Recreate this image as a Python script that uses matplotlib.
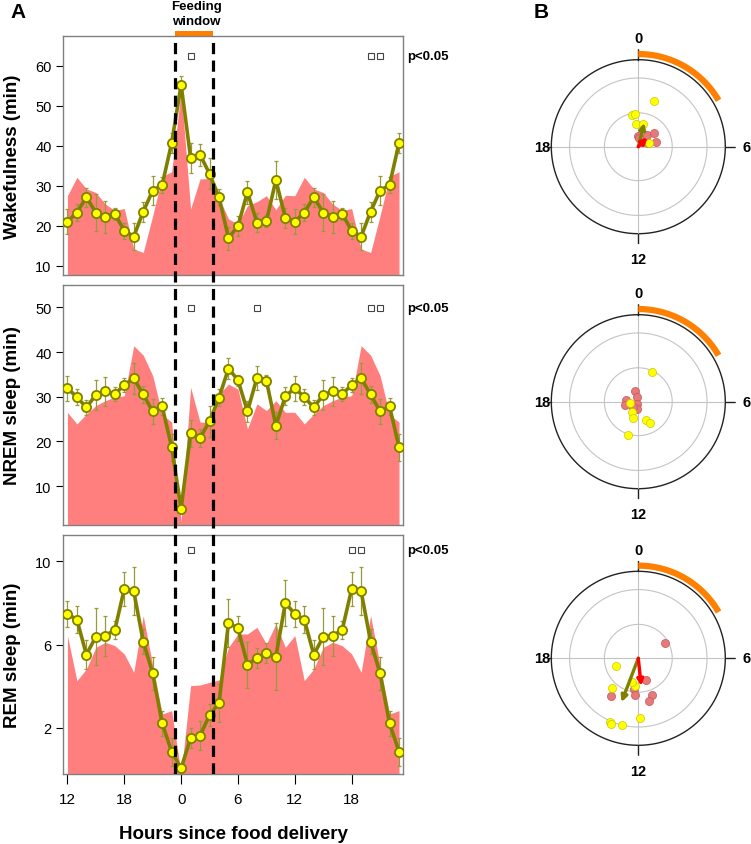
import numpy as np
import matplotlib.pyplot as plt

plt.rcParams['font.family'] = ['Liberation Sans', 'DejaVu Sans']

W, H = 751, 845

# ---- panel A data: hourly values, 0..23 h after food delivery (double plotted) ----
wake_mean = [55.2, 37.0, 37.7, 33.0, 27.1, 16.9, 19.9, 28.4, 20.8, 21.1, 31.4, 22.0,
             21.0, 23.3, 27.1, 23.3, 22.3, 22.9, 18.8, 17.3, 23.5, 28.8, 30.2, 40.7]
wake_sem = [2.2, 3.7, 2.7, 3.9, 2.0, 2.9, 2.5, 2.9, 2.3, 1.5, 4.8, 2.5,
            3.1, 2.1, 2.3, 4.6, 4.0, 1.5, 2.0, 3.3, 2.5, 3.6, 1.9, 2.5]
wake_ctrl = [53.8, 24.2, 31.7, 31.8, 27.0, 21.7, 20.4, 25.0, 26.0, 27.5, 24.0, 27.6,
             27.5, 32.1, 29.2, 28.3, 25.4, 23.8, 24.3, 14.2, 13.3, 22.5, 32.3, 33.5]

nrem_mean = [4.9, 21.8, 20.8, 24.5, 29.8, 36.3, 33.7, 26.7, 34.2, 33.6, 23.5, 30.1,
             31.9, 29.9, 27.6, 30.4, 31.2, 30.6, 32.6, 34.1, 30.5, 26.7, 27.8, 18.7]
nrem_sem = [1.0, 3.0, 2.0, 3.5, 1.9, 2.4, 1.2, 2.4, 2.6, 1.2, 3.0, 2.0,
            2.8, 1.8, 1.6, 3.4, 3.2, 1.5, 1.5, 3.5, 1.9, 2.8, 2.0, 3.0]
nrem_ctrl = [2.0, 32.1, 24.3, 24.3, 30.6, 32.8, 31.7, 22.8, 28.4, 26.9, 29.1, 26.5,
             26.5, 23.9, 26.1, 28.0, 29.1, 29.9, 30.2, 41.4, 39.3, 34.7, 26.0, 24.3]

rem_mean = [0.06, 1.52, 1.63, 2.62, 3.2, 7.04, 6.78, 5.04, 5.36, 5.6, 5.42, 8.0,
            7.47, 7.2, 5.52, 6.38, 6.43, 6.7, 8.67, 8.56, 6.14, 4.62, 2.22, 0.86]
rem_sem = [0.2, 0.5, 0.7, 0.55, 0.9, 1.15, 0.6, 1.1, 0.5, 0.5, 1.6, 1.1,
           0.64, 0.64, 0.7, 1.36, 0.96, 0.45, 0.8, 1.15, 0.6, 0.8, 0.6, 0.68]
rem_ctrl = [-0.2, 4.03, 4.06, 4.19, 4.3, 5.87, 6.51, 6.51, 6.83, 6.03, 6.99, 5.87,
            6.43, 4.27, 4.83, 5.87, 6.11, 5.95, 5.55, 4.67, 7.39, 5.0, 2.67, 2.83]

# hours with significant difference (open squares)
wake_sig = [1, 20, 21]
nrem_sig = [1, 8, 20, 21]
rem_sig = [1, 18, 19]

hours = np.arange(-12, 24)
tick_hours = [-12, -6, 0, 6, 12, 18]
tick_labels = ['12', '18', '0', '6', '12', '18']
window = (-0.65, 3.4)

# ---- panel B data: (hour of peak, vector length) ----
wake_yel = [(1.23, 0.557), (23.2, 0.372), (23.6, 0.377), (23.6, 0.262), (0.72, 0.265), (4.9, 0.132)]
wake_pink = [(23.77, 0.127), (2.37, 0.165), (3.27, 0.234), (4.95, 0.211), (4.77, 0.121), (2.25, 0.069), (0.3, 0.096)]
wake_arrows = [(0.94, 0.284), (3.0, 0.15)]

nrem_yel = [(1.6, 0.377), (17.3, 0.10), (14.1, 0.145), (13.1, 0.20), (10.4, 0.23), (10.1, 0.28), (13.2, 0.40)]
nrem_pink = [(22.8, 0.133), (22.6, 0.053), (18.6, 0.147), (17.1, 0.157), (13.5, 0.03), (12.5, 0.085), (15.1, 0.084)]
nrem_arrows = []

rem_yel = [(16.7, 0.27), (14.8, 0.46), (12.5, 0.32), (12.96, 0.28), (13.6, 0.80), (13.5, 0.82), (12.9, 0.785), (11.9, 0.69)]
rem_pink = [(4.06, 0.35), (10.7, 0.26), (12.5, 0.356), (12.35, 0.42), (10.6, 0.45), (11.1, 0.51), (14.4, 0.53)]
rem_arrows = [(13.4, 0.54), (11.6, 0.32)]

OLIVE = '#808000'
RED_AREA = '#FF7F7F'
ORANGE = '#FF7F00'


def px_rect(left, top, w, h):
    return [left / W, 1 - (top + h) / H, w / W, h / H]


def double(v):
    v = np.asarray(v)
    return np.concatenate([v[12:], v])


def draw_panel(ax, mean, sem, ctrl, ylim, yticks, sig, sig_y):
    ax.fill_between(hours, ylim[0] - 5, double(ctrl), color=RED_AREA, lw=0, zorder=1)
    ax.errorbar(hours, double(mean), yerr=double(sem), fmt='none', ecolor='#9a9a3a',
                elinewidth=0.9, capsize=1.6, capthick=0.9, zorder=2)
    ax.plot(hours, double(mean), '-o', color=OLIVE, lw=2.6, ms=6.6, mfc='#FFFF00',
            mec=OLIVE, mew=1.3, zorder=3)
    ax.plot(sig, [sig_y] * len(sig), 's', ls='none', ms=5, mfc='white', mec='#444444', mew=0.8)
    ax.text(1.012, sig_y, 'p<0.05', transform=ax.get_yaxis_transform(), ha='left',
            va='center', fontsize=9.5, fontweight='bold')
    ax.set_xlim(-12.5, 23.45)
    ax.set_ylim(*ylim)
    ax.set_yticks(yticks)
    for s in ax.spines.values():
        s.set_color('#808080')
        s.set_linewidth(1)
    ax.tick_params(axis='y', length=5, width=0.8, labelsize=10.5, pad=3)
    ax.tick_params(axis='x', length=0, labelbottom=False)


def draw_polar(ax, yel, pink, arrows):
    ax.set_theta_zero_location('N')
    ax.set_theta_direction(-1)
    ax.set_ylim(0, 1.12)
    ax.axis('off')
    th = np.linspace(0, 2 * np.pi, 400)
    for r in (0.39, 0.79):
        ax.plot(th, np.full_like(th, r), color='#c4c4c4', lw=0.8)
    ax.plot(th, np.ones_like(th), color='#222222', lw=1)
    for a in (0, 0.5 * np.pi, np.pi, 1.5 * np.pi):
        ax.plot([a, a], [0, 1], color='#c4c4c4', lw=0.8)
        ax.plot([a, a], [1, 1.12 if a != 1.5 * np.pi else 1.03], color='#222222', lw=1)
    arc = np.linspace(0, 4 / 24 * 2 * np.pi, 60)
    ax.plot(arc, np.full_like(arc, 1.065), color=ORANGE, lw=4.5, solid_capstyle='butt')
    for lab, a, r in (('0', 0, 1.25), ('6', 0.5 * np.pi, 1.25), ('12', np.pi, 1.29), ('18', 1.5 * np.pi, 1.1)):
        ax.text(a, r, lab, ha='center', va='center', fontsize=10.5, fontweight='bold', clip_on=False)
    to_th = lambda h: np.asarray(h) / 24 * 2 * np.pi
    ph, pr = zip(*pink)
    ax.scatter(to_th(ph), pr, s=34, color='#E8797A', edgecolors='#c05858', linewidths=0.5, zorder=3)
    yh, yr = zip(*yel)
    ax.scatter(to_th(yh), yr, s=34, color='#FFFF00', edgecolors='#c8c800', linewidths=0.5, zorder=4)
    for (h, r), col in zip(arrows, (OLIVE, '#FF0000')):
        ax.annotate('', xy=(to_th(h), r), xytext=(0, 0),
                    arrowprops=dict(arrowstyle='-|>', color=col, lw=2.4, mutation_scale=9,
                                    shrinkA=0, shrinkB=0), zorder=5)


fig = plt.figure(figsize=(W / 100, H / 100), dpi=100)

left, width = 62.7, 340.6
ax1 = fig.add_axes(px_rect(left, 36.7, width, 239.3))
ax2 = fig.add_axes(px_rect(left, 286, width, 240))
ax3 = fig.add_axes(px_rect(left, 536, width, 239))

draw_panel(ax1, wake_mean, wake_sem, wake_ctrl, (7.675, 67.5), [10, 20, 30, 40, 50, 60], wake_sig, 62.5)
draw_panel(ax2, nrem_mean, nrem_sem, nrem_ctrl, (1.27, 55.0), [10, 20, 30, 40, 50], nrem_sig, 49.9)
draw_panel(ax3, rem_mean, rem_sem, rem_ctrl, (-0.21, 11.26), [2, 6, 10], rem_sig, 10.55)

ax3.set_xticks(tick_hours)
ax3.set_xticklabels(tick_labels)
ax3.tick_params(axis='x', length=7, width=0.8, labelsize=11, labelbottom=True, pad=6)
ax3.set_xlabel('Hours since food delivery', fontsize=13.5, fontweight='bold', labelpad=14)

for ax, lab in ((ax1, 'Wakefulness (min)'), (ax2, 'NREM sleep (min)'), (ax3, 'REM sleep (min)')):
    ax.set_ylabel(lab, fontsize=13.5, fontweight='bold', labelpad=10)

# feeding window bar and dashed lines across all panels
ax1.axvspan(window[0], window[1], ymin=1.0, ymax=1.021, color=ORANGE, lw=0, clip_on=False)
over = fig.add_axes(px_rect(left, 36.7, width, 738.3))
over.set_xlim(-12.5, 23.45)
over.set_ylim(0, 1)
over.axis('off')
for x in window:
    over.axvline(x, color='black', lw=2.3, dashes=(3.5, 2.0), zorder=10)
fig.text(196.7 / W, 1 - 14.5 / H, 'Feeding\nwindow', ha='center', va='center',
         fontsize=9.5, fontweight='bold', linespacing=1.25)

# panel B
R = 87 * 1.12
for cy, yel, pink, arrows in ((147.7, wake_yel, wake_pink, wake_arrows),
                              (402.7, nrem_yel, nrem_pink, nrem_arrows),
                              (659.3, rem_yel, rem_pink, rem_arrows)):
    pax = fig.add_axes(px_rect(638.3 - R, cy - R, 2 * R, 2 * R), projection='polar')
    draw_polar(pax, yel, pink, arrows)

fig.text(18 / W, 1 - 12 / H, 'A', fontsize=15, fontweight='bold', ha='center', va='center')
fig.text(541 / W, 1 - 12 / H, 'B', fontsize=15, fontweight='bold', ha='center', va='center')

fig.savefig('out.png', dpi=100)
